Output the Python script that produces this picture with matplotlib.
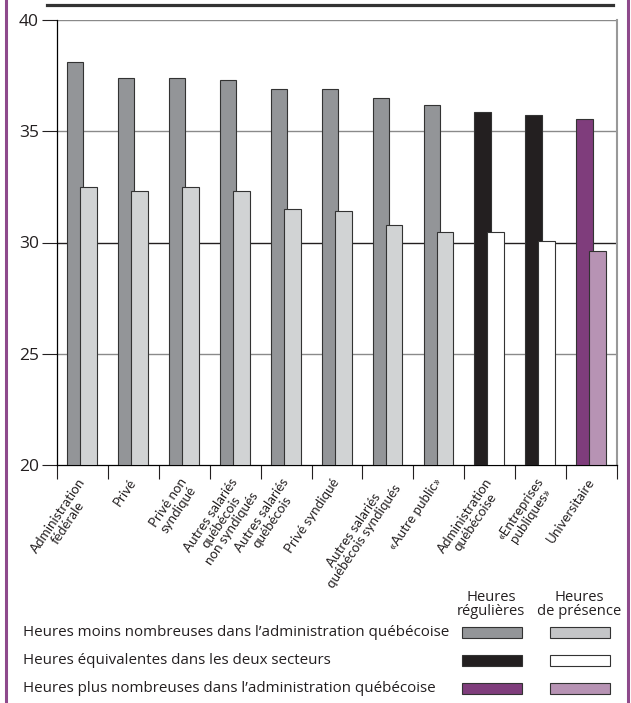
import matplotlib
matplotlib.use('Agg')
import matplotlib.pyplot as plt
from matplotlib.patches import Rectangle
from matplotlib.lines import Line2D
import matplotlib.transforms as mtransforms

plt.rcParams['font.family'] = ['Open Sans', 'DejaVu Sans']

# Data
categories = [
    'Administration\nfédérale', 'Privé', 'Privé non\nsyndiqué',
    'Autres salariés\nquébécois\nnon syndiqués', 'Autres salariés\nquébécois',
    'Privé syndiqué', 'Autres salariés\nquébécois syndiqués', '«Autre public»',
    'Administration\nquébécoise', '«Entreprises\npubliques»', 'Universitaire',
]
heures_regulieres = [38.1, 37.4, 37.4, 37.3, 36.9, 36.9, 36.5, 36.2, 35.85, 35.75, 35.55]
heures_presence = [32.5, 32.3, 32.5, 32.3, 31.5, 31.4, 30.8, 30.45, 30.45, 30.05, 29.6]
groupe = [0, 0, 0, 0, 0, 0, 0, 0, 1, 1, 2]

legend_labels = [
    'Heures moins nombreuses dans l\u2019administration québécoise',
    'Heures équivalentes dans les deux secteurs',
    'Heures plus nombreuses dans l\u2019administration québécoise',
]
col_regulieres = ['#939598', '#231f20', '#7f3d7c']
col_presence = ['#d1d3d4', '#ffffff', '#b793b4']
col_presence_legend = ['#c4c5c7', '#ffffff', '#b793b4']

W, H = 631, 703
fig = plt.figure(figsize=(W / 100, H / 100), dpi=100)
ax = fig.add_axes([57 / W, 1 - 465 / H, 560 / W, 445 / H])

x = list(range(len(categories)))
for i in x:
    g = groupe[i]
    ax.bar(i - 0.14, heures_regulieres[i] - 20, bottom=20, width=0.32,
           color=col_regulieres[g], edgecolor='#333333', linewidth=0.8, zorder=3)
    ax.bar(i + 0.12, heures_presence[i] - 20, bottom=20, width=0.33,
           color=col_presence[g], edgecolor='#333333', linewidth=0.8, zorder=4)

ax.set_ylim(20, 40)
ax.set_xlim(-0.5, 10.5)
ax.set_yticks([20, 25, 30, 35, 40])
ax.tick_params(axis='y', labelsize=12.5, length=11, width=0.8, pad=2, colors='#231f20')
for yv, c in [(25, '#8a8a8a'), (30, '#231f20'), (35, '#8a8a8a'), (40, '#8a8a8a')]:
    ax.axhline(yv, color=c, linewidth=1.0, zorder=1)

ax.set_xticks([i - 0.5 for i in range(len(categories) + 1)])
ax.set_xticklabels([])
ax.tick_params(axis='x', length=10, width=0.8, colors='#231f20')

ax.spines['top'].set_visible(False)
ax.spines['right'].set_color('#999999')
ax.spines['right'].set_linewidth(1.5)
ax.spines['left'].set_linewidth(0.9)
ax.spines['bottom'].set_linewidth(0.9)

# rotated category labels
offset = mtransforms.ScaledTranslation(0, -11 / 100, fig.dpi_scale_trans)
trans = mtransforms.blended_transform_factory(ax.transData, ax.transAxes) + offset
for i, lab in enumerate(categories):
    ax.text(i - 0.1, 0, lab, transform=trans, rotation=56, rotation_mode='anchor',
            ha='right', va='top', multialignment='center', fontsize=9.6,
            family=['Lato', 'DejaVu Sans'], color='#231f20', linespacing=1.02)

# top thick rule
fig.add_artist(Line2D([47 / W, 613 / W], [1 - 5 / H, 1 - 5 / H], color='#333333', linewidth=2.3))
# purple side rules
for xp in [6, 628]:
    fig.add_artist(Line2D([xp / W, xp / W], [0, 1], color='#8e4a8c', linewidth=2.2))

# legend
fig.text(491 / W, 1 - 590 / H, 'Heures\nrégulières', ha='center', va='top', fontsize=10.6,
         color='#231f20', linespacing=0.95)
fig.text(579 / W, 1 - 590 / H, 'Heures\nde présence', ha='center', va='top', fontsize=10.6,
         color='#231f20', linespacing=0.95)
rows_y = [632, 660, 688]
for k, lab in enumerate(legend_labels):
    yc = rows_y[k]
    fig.text(23 / W, 1 - yc / H, lab, ha='left', va='center', fontsize=10.9, color='#231f20')
    fig.add_artist(Rectangle((462 / W, 1 - (yc + 5.5) / H), 60 / W, 11 / H,
                             facecolor=col_regulieres[k], edgecolor='#333333', linewidth=0.8,
                             transform=fig.transFigure))
    fig.add_artist(Rectangle((550 / W, 1 - (yc + 5.5) / H), 60 / W, 11 / H,
                             facecolor=col_presence_legend[k], edgecolor='#333333', linewidth=0.8,
                             transform=fig.transFigure))

fig.savefig('out.png', dpi=100)
